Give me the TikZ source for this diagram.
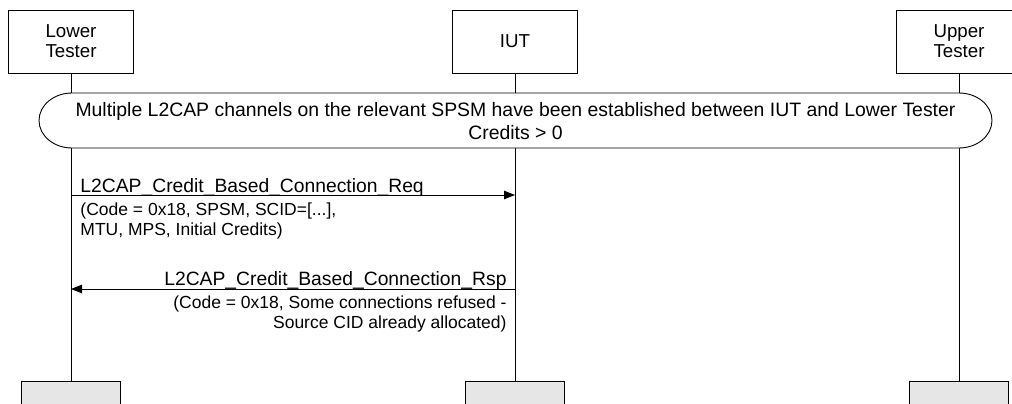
\documentclass[tikz,border=0pt]{standalone}
\usepackage{fontspec}
\setmainfont{Liberation Sans}
\usetikzlibrary{arrows.meta}
\definecolor{endfill}{RGB}{230,230,230}
\begin{document}
\begin{tikzpicture}[x=1pt,y=-1pt,
  line width=0.9pt,
  hdr/.style={draw, fill=white, minimum width=125pt, minimum height=63pt, align=center,
    font=\fontsize{18.7}{20}\selectfont, inner sep=0pt},
  endbox/.style={draw, fill=endfill, minimum width=99pt, minimum height=40pt, anchor=north, inner sep=0pt},
  msg/.style={-{Triangle[length=11pt,width=8.5pt]}},
  lbl/.style={inner sep=0pt, font=\fontsize{19.3}{20}\selectfont},
  sub/.style={inner sep=0pt, font=\fontsize{17.5}{20}\selectfont},
]
\path[use as bounding box, clip] (0,0) rectangle (1012,404);

% instance heads
\node[hdr] (lt) at (71,41.5) {Lower\\Tester};
\node[hdr] (iut) at (515,41.5) {IUT};
\node[hdr] (ut) at (959,41.5) {Upper\\Tester};

% instance ends
\node[endbox] (ltend) at (71,381) {};
\node[endbox] (iutend) at (515,381) {};
\node[endbox] (utend) at (959,381) {};

% lifelines
\draw (lt.south) -- (ltend.north);
\draw (iut.south) -- (iutend.north);
\draw (ut.south) -- (utend.north);

% condition banner
\draw[fill=white] (72,93) -- (959,93)
  arc[start angle=-90, end angle=90, x radius=33, y radius=27.5]
  -- (72,148)
  arc[start angle=90, end angle=270, x radius=33, y radius=27.5] -- cycle;
\node[align=center, inner sep=0pt, font=\fontsize{19.4}{23}\selectfont] (banner) at (515.5,121)
  {Multiple L2CAP channels on the relevant SPSM have been established between IUT and Lower Tester\\Credits > 0};

% request
\coordinate (reqA) at (71,195);
\coordinate (reqB) at (515,195);
\draw[msg] (reqA) -- (reqB);
\node[lbl, anchor=base west] (reqlbl) at (80,192) {L2CAP\_Credit\_Based\_Connection\_Req};
\node[sub, anchor=base west] (reqp1) at (80,215) {(Code = 0x18, SPSM, SCID=[...],};
\node[sub, anchor=base west] (reqp2) at (80,235) {MTU, MPS, Initial Credits)};

% response
\coordinate (rspA) at (515,289);
\coordinate (rspB) at (71,289);
\draw[msg] (rspA) -- (rspB);
\node[lbl, anchor=base east] (rsplbl) at (507,285) {L2CAP\_Credit\_Based\_Connection\_Rsp};
\node[sub, anchor=base east] (rspp1) at (507,308) {(Code = 0x18, Some connections refused -};
\node[sub, anchor=base east] (rspp2) at (507,328) {Source CID already allocated)};
\end{tikzpicture}
\end{document}
